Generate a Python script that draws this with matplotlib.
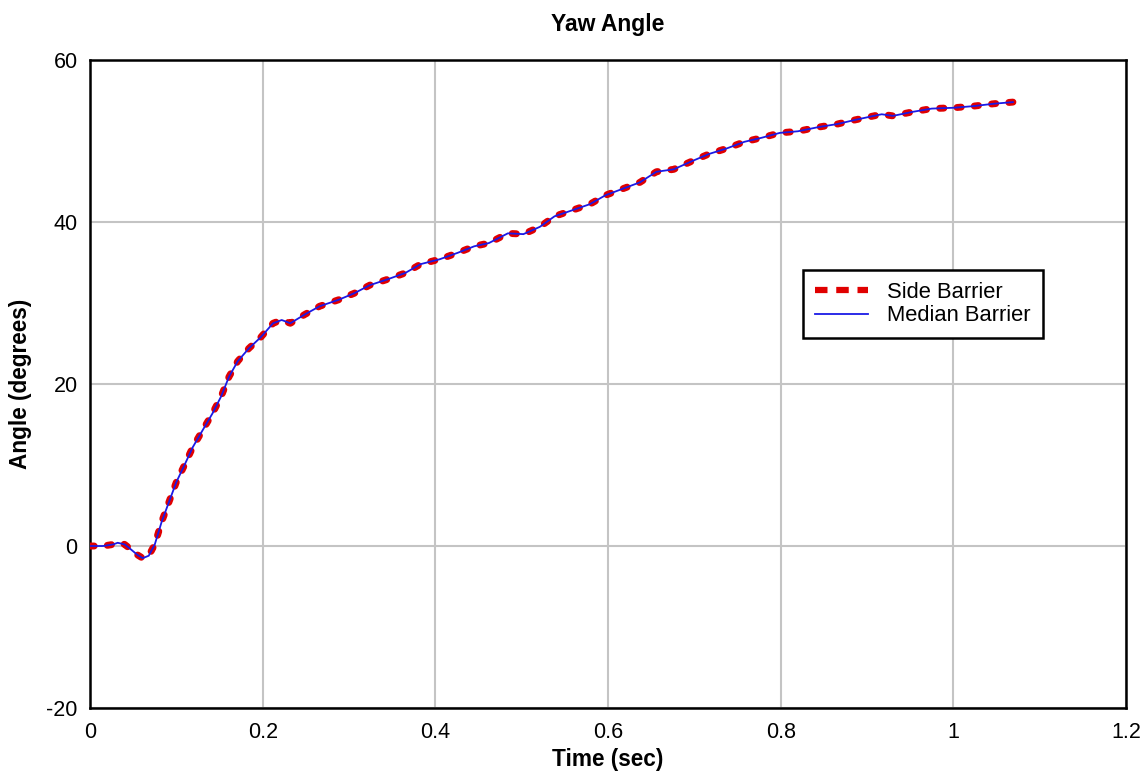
import matplotlib
matplotlib.use("Agg")
import matplotlib.pyplot as plt

plt.rcParams["font.family"] = ["Liberation Sans", "DejaVu Sans"]
plt.rcParams["axes.unicode_minus"] = False

time_sec = [0.0, 0.015, 0.027, 0.032, 0.04, 0.046, 0.055, 0.061, 0.068, 0.075,
            0.083, 0.092, 0.1, 0.109, 0.119, 0.131, 0.142, 0.152, 0.161, 0.171,
            0.184, 0.198, 0.212, 0.222, 0.232, 0.249, 0.266, 0.288, 0.306, 0.324,
            0.344, 0.365, 0.383, 0.405, 0.426, 0.445, 0.462, 0.484, 0.502, 0.521,
            0.538, 0.56, 0.579, 0.597, 0.617, 0.637, 0.656, 0.676, 0.697, 0.717,
            0.738, 0.758, 0.778, 0.799, 0.82, 0.843, 0.866, 0.886, 0.908, 0.917,
            0.93, 0.953, 0.975, 1.0, 1.023, 1.047, 1.069]
side_barrier = [0.0, 0.0, 0.2, 0.4, 0.2, -0.3, -1.1, -1.5, -1.2, 0.2,
                3.0, 5.6, 7.9, 9.9, 12.2, 14.4, 16.4, 18.5, 20.9, 22.8,
                24.4, 25.8, 27.5, 27.9, 27.5, 28.6, 29.6, 30.4, 31.2, 32.2,
                32.9, 33.7, 34.8, 35.4, 36.2, 37.0, 37.4, 38.6, 38.5, 39.4,
                40.7, 41.5, 42.2, 43.3, 44.1, 44.9, 46.2, 46.5, 47.5, 48.4,
                49.1, 49.9, 50.4, 51.0, 51.2, 51.7, 52.1, 52.6, 53.1, 53.3,
                53.1, 53.6, 54.0, 54.1, 54.3, 54.6, 54.8]
median_barrier = list(side_barrier)

fig = plt.figure(figsize=(11.47, 7.76), dpi=100)
ax = fig.add_axes([0.0785, 0.0876, 0.9032, 0.8351])

ax.plot(time_sec, side_barrier, color="#e00000", linewidth=5,
        linestyle=(0, (0.6, 1.9)), dash_capstyle="round",
        solid_capstyle="round", label="Side Barrier", zorder=3)
ax.plot(time_sec, median_barrier, color="#1a1ae6", linewidth=1.3,
        label="Median Barrier", zorder=4)

ax.set_xlim(0, 1.2)
ax.set_ylim(-20, 60)
ax.set_xticks([0, 0.2, 0.4, 0.6, 0.8, 1.0, 1.2])
ax.set_xticklabels(["0", "0.2", "0.4", "0.6", "0.8", "1", "1.2"])
ax.set_yticks([-20, 0, 20, 40, 60])
ax.tick_params(length=0, labelsize=15.5)
ax.tick_params(axis="x", pad=10)
ax.tick_params(axis="y", pad=9)
ax.grid(True, color="#c4c4c4", linewidth=1.5)
ax.set_axisbelow(True)
for spine in ax.spines.values():
    spine.set_linewidth(1.8)

ax.set_title("Yaw Angle", fontsize=16.5, fontweight="bold", pad=21)
ax.set_xlabel("Time (sec)", fontsize=16.3, fontweight="bold", labelpad=4)
ax.set_ylabel("Angle (degrees)", fontsize=16.3, fontweight="bold", labelpad=10)

leg = ax.legend(loc="upper left", bbox_to_anchor=(0.688, 0.676), fontsize=15.8,
                fancybox=False, edgecolor="black", framealpha=1,
                handlelength=2.4, handletextpad=0.9, borderpad=0.55,
                labelspacing=0.1, borderaxespad=0)
leg.get_frame().set_linewidth(1.8)
leg.get_lines()[0].set_linewidth(4.5)
leg.get_lines()[0].set_linestyle((0, (2.0, 1.4)))
leg.get_lines()[0].set_dash_capstyle("butt")

fig.savefig("out.png", dpi=100)
